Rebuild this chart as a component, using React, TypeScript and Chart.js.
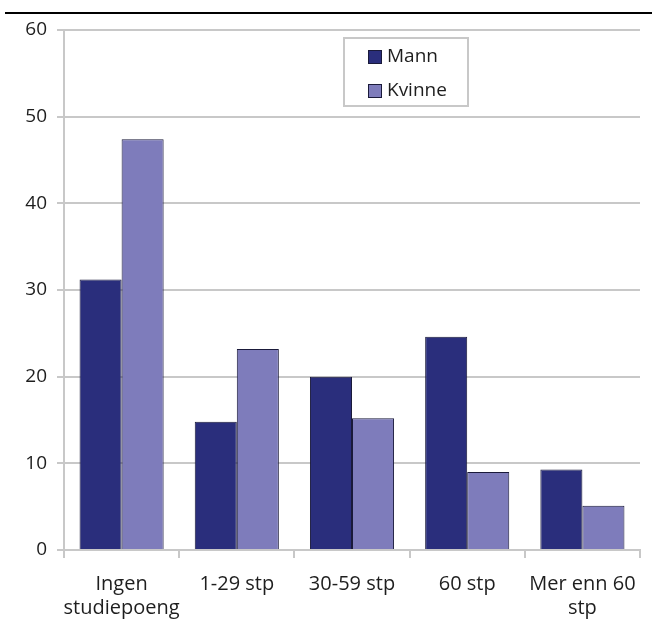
import React, { useEffect, useRef } from "react";
import { Chart, registerables } from "chart.js";

Chart.register(...registerables);

const categories: (string | string[])[] = [
  ["Ingen", "studiepoeng"],
  "1-29 stp",
  "30-59 stp",
  "60 stp",
  ["Mer enn 60", "stp"],
];
const seriesNames = ["Mann", "Kvinne"];
const mannValues = [31.2, 14.8, 20.0, 24.6, 9.3];
const kvinneValues = [47.4, 23.2, 15.2, 9.0, 5.1];
const seriesColors = ["#2a2e7c", "#7e7cbb"];
const yMin = 0;
const yMax = 60;
const yStep = 10;

const FONT = "'Open Sans', 'Noto Sans', sans-serif";
const TEXT = "#1e1e1e";

const decorPlugin = {
  id: "decor",
  afterDraw(chart: any) {
    const ctx = chart.ctx as CanvasRenderingContext2D;
    ctx.save();
    // top rule
    ctx.fillStyle = "#000";
    ctx.fillRect(5, 12, 647, 2);
    // legend box
    const bx = 344, by = 38, bw = 124, bh = 68;
    ctx.fillStyle = "#fff";
    ctx.fillRect(bx, by, bw, bh);
    ctx.strokeStyle = "#c8c8c8";
    ctx.lineWidth = 2;
    ctx.strokeRect(bx, by, bw, bh);
    ctx.font = `19px ${FONT}`;
    ctx.textBaseline = "middle";
    chart.data.datasets.forEach((ds: any, i: number) => {
      const cy = 57 + i * 34;
      ctx.fillStyle = ds.backgroundColor;
      ctx.fillRect(368.5, cy - 6.5, 13, 13);
      ctx.strokeStyle = "#1a1a3a";
      ctx.lineWidth = 1;
      ctx.strokeRect(368.5, cy - 6.5, 13, 13);
      ctx.fillStyle = TEXT;
      ctx.textAlign = "left";
      ctx.fillText(ds.label, 387, cy);
    });
    ctx.restore();
  },
};

export default function App() {
  const ref = useRef<HTMLCanvasElement | null>(null);
  useEffect(() => {
    if (!ref.current) return;
    const chart = new Chart(ref.current, {
      type: "bar",
      data: {
        labels: categories,
        datasets: [
          {
            label: seriesNames[0],
            data: mannValues,
            backgroundColor: seriesColors[0],
            borderColor: "#1a1a3a",
            borderWidth: 1,
            categoryPercentage: 0.73,
            barPercentage: 1,
          },
          {
            label: seriesNames[1],
            data: kvinneValues,
            backgroundColor: seriesColors[1],
            borderColor: "#1a1a3a",
            borderWidth: 1,
            categoryPercentage: 0.73,
            barPercentage: 1,
          },
        ],
      },
      options: {
        responsive: false,
        animation: false,
        layout: { padding: { left: 0, right: 12, top: 30, bottom: 0 } },
        plugins: {
          legend: { display: false },
          tooltip: { enabled: false },
        },
        scales: {
          x: {
            grid: {
              display: true,
              drawOnChartArea: false,
              drawTicks: true,
              tickLength: 8,
              color: "#c8c8c8",
              lineWidth: 2,
              offset: true,
            },
            border: { display: true, color: "#c8c8c8", width: 2 },
            ticks: {
              color: TEXT,
              font: { family: FONT, size: 20, lineHeight: 1.2 },
              padding: 14,
              maxRotation: 0,
              autoSkip: false,
            },
            afterFit: (s: any) => {
              s.height = 623 - 550;
            },
          },
          y: {
            min: yMin,
            max: yMax,
            grid: {
              color: "#c8c8c8",
              lineWidth: 2,
              drawTicks: true,
              tickLength: 7,
            },
            border: { display: true, color: "#c8c8c8", width: 2 },
            ticks: {
              stepSize: yStep,
              color: TEXT,
              font: { family: FONT, size: 19 },
              padding: 10,
            },
            afterFit: (s: any) => {
              s.width = 64;
            },
          },
        },
      },
      plugins: [decorPlugin],
    });
    return () => chart.destroy();
  }, []);
  return (
    <div style={{ position: "fixed", left: 0, top: 0, width: 652, height: 623, background: "#fff" }}>
      <canvas ref={ref} width={652} height={623} style={{ display: "block" }} />
    </div>
  );
}
